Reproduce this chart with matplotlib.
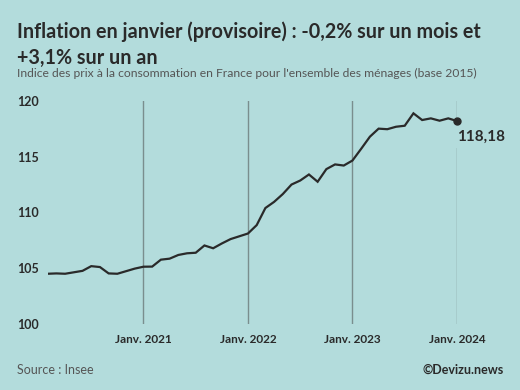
import matplotlib
matplotlib.use("Agg")
import matplotlib.pyplot as plt
import numpy as np

# Indice des prix à la consommation, base 2015, févr. 2020 -> janv. 2024
months = ["2020-02", "2020-03", "2020-04", "2020-05", "2020-06", "2020-07",
          "2020-08", "2020-09", "2020-10", "2020-11", "2020-12",
          "2021-01", "2021-02", "2021-03", "2021-04", "2021-05", "2021-06",
          "2021-07", "2021-08", "2021-09", "2021-10", "2021-11", "2021-12",
          "2022-01", "2022-02", "2022-03", "2022-04", "2022-05", "2022-06",
          "2022-07", "2022-08", "2022-09", "2022-10", "2022-11", "2022-12",
          "2023-01", "2023-02", "2023-03", "2023-04", "2023-05", "2023-06",
          "2023-07", "2023-08", "2023-09", "2023-10", "2023-11", "2023-12",
          "2024-01"]
ipc = [104.52, 104.55, 104.52, 104.65, 104.78, 105.20, 105.12, 104.55, 104.52,
       104.75, 104.98,
       105.15, 105.16, 105.78, 105.87, 106.20, 106.35, 106.40, 107.05, 106.80,
       107.23, 107.62, 107.87,
       108.12, 108.87, 110.40, 110.95, 111.65, 112.50, 112.86, 113.40, 112.75,
       113.88, 114.30, 114.20,
       114.65, 115.70, 116.78, 117.50, 117.45, 117.67, 117.76, 118.87, 118.27,
       118.42, 118.21, 118.42,
       118.18]
tick_months = ["2021-01", "2022-01", "2023-01", "2024-01"]
tick_labels = ["Janv. 2021", "Janv. 2022", "Janv. 2023", "Janv. 2024"]
y_ticks = [100, 105, 110, 115, 120]

bg = "#b3dcdc"
dark = "#2a2a2a"
font = "Lato"

fig = plt.figure(figsize=(5.2, 3.9), dpi=100)
fig.patch.set_facecolor(bg)
ax = fig.add_axes([0.0917, 0.1685, 0.7871, 0.5733])
ax.set_facecolor(bg)

x = np.arange(len(months))
ax.plot(x, ipc, color=dark, lw=1.6, solid_joinstyle="miter", zorder=3)
ax.plot(x[-1], ipc[-1], "o", color=dark, ms=5, zorder=6, clip_on=False)
ax.annotate(f"{ipc[-1]:.2f}".replace(".", ","), (x[-1], ipc[-1]),
            xytext=(0, -6), textcoords="offset points", ha="left", va="top",
            fontsize=11, fontweight="bold", color=dark, family=font,
            bbox=dict(boxstyle="square,pad=0.3", fc=bg, ec="none"),
            zorder=5, annotation_clip=False)

ax.set_xlim(0, len(months) - 1)
ax.set_ylim(100, 120)
ax.set_xticks([months.index(m) for m in tick_months])
ax.set_xticklabels(tick_labels)
ax.set_yticks(y_ticks)
ax.grid(axis="x", color="#7a8e8e", lw=1)
ax.set_axisbelow(True)
for s in ax.spines.values():
    s.set_visible(False)
ax.tick_params(axis="x", length=0, pad=7, labelsize=8.5, labelcolor=dark)
ax.tick_params(axis="y", length=0, pad=22, labelsize=9, labelcolor=dark)
for lbl in ax.get_xticklabels() + ax.get_yticklabels():
    lbl.set_fontweight("bold")
    lbl.set_family(font)
for lbl in ax.get_yticklabels():
    lbl.set_ha("left")

fig.text(0.032, 0.885, "Inflation en janvier (provisoire) : -0,2% sur un mois et\n+3,1% sur un an",
         ha="left", va="center", fontsize=14.2, fontweight="bold", color=dark,
         family=font, linespacing=1.35)
fig.text(0.032, 0.811, "Indice des prix à la consommation en France pour l'ensemble des ménages (base 2015)",
         ha="left", va="center", fontsize=8.7, color="#555555", family=font)
fig.text(0.032, 0.051, "Source : Insee", ha="left", va="center", fontsize=9,
         color="#555555", family=font)
fig.text(0.968, 0.051, "©Devizu.news", ha="right", va="center", fontsize=9,
         fontweight="bold", color=dark, family=font)

fig.savefig("out.png", dpi=100, facecolor=bg)
